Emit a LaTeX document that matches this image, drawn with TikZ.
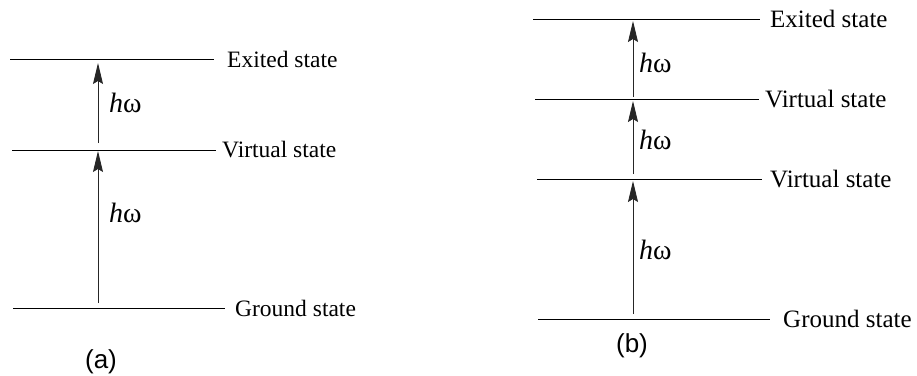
\documentclass[tikz,border=0pt]{standalone}
\usepackage{fontspec}
\setmainfont{Liberation Serif}
\newfontfamily\labsans{Liberation Sans}
\usetikzlibrary{arrows.meta}
\begin{document}
\begin{tikzpicture}[x=1pt,y=-1pt,
  level/.style={line width=1pt},
  photon/.style={line width=0.9pt,draw=black!85,-{Stealth[length=21pt,width=10pt,inset=3pt]}},
  statelab/.style={anchor=west,inner sep=0pt,font=\fontsize{23.5}{26}\selectfont},
  statelabb/.style={anchor=west,inner sep=0pt,font=\fontsize{25}{28}\selectfont},
  hw/.style={anchor=west,inner sep=0pt,font=\fontsize{28}{30}\selectfont},
  panel/.style={inner sep=0pt,font=\labsans\fontsize{26}{28}\selectfont}]
\useasboundingbox (0,0) rectangle (917,375);
% panel (a)
\coordinate (aE1) at (10,59);  \coordinate (aE2) at (214,59);
\coordinate (aV1) at (12,150); \coordinate (aV2) at (216,150);
\coordinate (aG1) at (13,308); \coordinate (aG2) at (225,308);
\draw[level] (aE1) -- (aE2);
\draw[level] (aV1) -- (aV2);
\draw[level] (aG1) -- (aG2);
\node[statelab] (aEl) at (227,59) {Exited state};
\node[statelab] (aVl) at (222,150) {Virtual state};
\node[statelab] (aGl) at (235,308) {Ground state};
\coordinate (aA1s) at (98,143); \coordinate (aA1e) at (98,63);
\coordinate (aA2s) at (98,303); \coordinate (aA2e) at (98,151);
\draw[photon] (aA1s) -- (aA1e);
\draw[photon] (aA2s) -- (aA2e);
\node[hw] (aH1) at (109,103) {\textit{h}ω};
\node[hw] (aH2) at (109,213) {\textit{h}ω};
\node[panel] (alab) at (101,362) {(a)};
% panel (b)
\coordinate (bE1) at (533,19);  \coordinate (bE2) at (760,19);
\coordinate (bV1) at (535,99);  \coordinate (bV2) at (759,99);
\coordinate (bW1) at (537,179); \coordinate (bW2) at (762,179);
\coordinate (bG1) at (538,319); \coordinate (bG2) at (770,319);
\draw[level] (bE1) -- (bE2);
\draw[level] (bV1) -- (bV2);
\draw[level] (bW1) -- (bW2);
\draw[level] (bG1) -- (bG2);
\node[statelabb] (bEl) at (770,19) {Exited state};
\node[statelabb] (bVl) at (765,99) {Virtual state};
\node[statelabb] (bWl) at (770,179) {Virtual state};
\node[statelabb] (bGl) at (783,319) {Ground state};
\coordinate (bA1s) at (633,97);  \coordinate (bA1e) at (633,21);
\coordinate (bA2s) at (633,174); \coordinate (bA2e) at (633,101);
\coordinate (bA3s) at (633,314); \coordinate (bA3e) at (633,181);
\draw[photon] (bA1s) -- (bA1e);
\draw[photon] (bA2s) -- (bA2e);
\draw[photon] (bA3s) -- (bA3e);
\node[hw] (bH1) at (639,63) {\textit{h}ω};
\node[hw] (bH2) at (639,140) {\textit{h}ω};
\node[hw] (bH3) at (639,250) {\textit{h}ω};
\node[panel] (blab) at (632,346) {(b)};
\end{tikzpicture}
\end{document}
